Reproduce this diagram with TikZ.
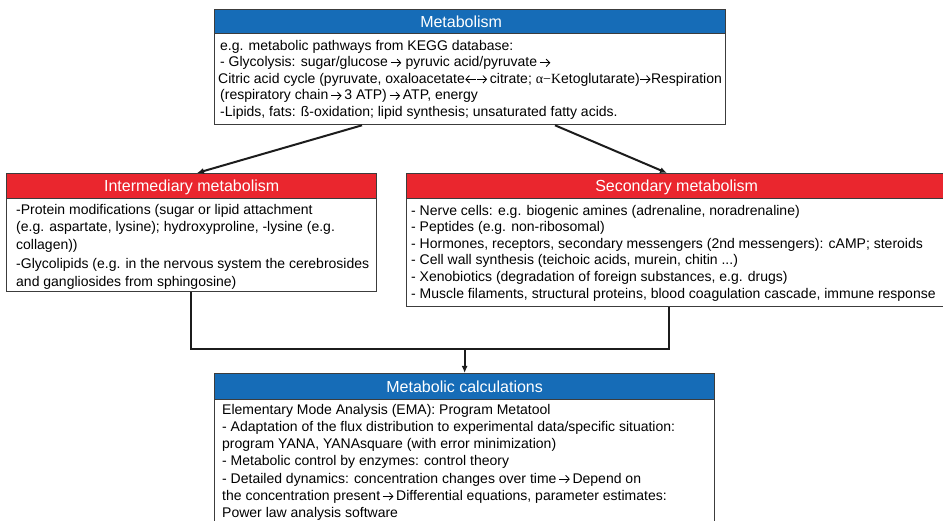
\documentclass[tikz,border=0pt]{standalone}
\usepackage{fontspec}
\setmainfont{Liberation Sans}
\newfontfamily\greekserif{Liberation Serif}
\usetikzlibrary{arrows.meta,calc}

\definecolor{hdrblue}{RGB}{22,108,183}
\definecolor{hdrred}{RGB}{234,38,46}
\definecolor{edge}{RGB}{60,60,60}
\definecolor{wire}{RGB}{28,28,28}

% fixed ascent for the first line of every list, so that its top
% sits 11pt above its baseline
\newcommand{\firstline}{\rule{0pt}{11pt}}
% open-headed text arrows, set at mid x-height
\newcommand{\rarr}{\tikz[baseline=-3.9pt]\draw[line width=0.85pt,
  -{Straight Barb[length=3.6pt,width=7.5pt]}] (0pt,0pt) -- (10.5pt,0pt);}
\newcommand{\larr}{\tikz[baseline=-3.9pt]\draw[line width=0.85pt,
  {Straight Barb[length=3.6pt,width=7.5pt]}-] (0pt,0pt) -- (10.5pt,0pt);}

\tikzset{
  frame/.style={draw=edge, line width=1.3pt, inner sep=0pt, anchor=north west},
  headbar/.style={frame, text=white, font=\fontsize{16}{18}\selectfont,
                  text height=11.4pt, text depth=0pt},
  bluebar/.style={headbar, fill=hdrblue},
  redbar/.style={headbar, fill=hdrred},
  panel/.style={frame, fill=white},
  listing/.style={anchor=north west, inner sep=0pt, align=left,
                  font=\fontsize{14}{#1}\selectfont},
  wireline/.style={draw=wire, line width=2pt},
  feed/.style={wireline, -{Latex[length=7pt,width=6pt]}},
}

\begin{document}
\begin{tikzpicture}[x=1pt,y=-1pt]
\useasboundingbox (0,0) rectangle (943,521);
\clip (0,0) rectangle (943,521);

% ---- Metabolism
\node[bluebar, minimum width=511pt, minimum height=24pt] (metaH) at (214,9) {\hspace*{-18pt}Metabolism};
\node[panel, minimum width=511pt, minimum height=91pt] (metaB) at (214,33) {};
\node[listing=16.5] (metaT) at (220,39) {\firstline e.g. metabolic pathways from KEGG database:\\
- Glycolysis: sugar/glucose\,\rarr\ pyruvic acid/pyruvate\,\rarr\\
\hspace*{-2pt}Citric acid cycle (pyruvate, oxaloacetate\larr\rarr\,citrate; {\greekserif α−K}etoglutarate)\rarr Respiration\\
(respiratory chain\,\rarr\,3 ATP)\,\rarr\,ATP, energy\\
-Lipids, fats: ß-oxidation; lipid synthesis; unsaturated fatty acids.};

% ---- Intermediary metabolism
\node[redbar, minimum width=370pt, minimum height=25pt] (interH) at (6,173) {Intermediary metabolism};
\node[panel, minimum width=370pt, minimum height=93pt] (interB) at (6,198) {};
\node[listing=17.5] (interT) at (16,203) {\firstline -Protein modifications (sugar or lipid attachment\\
(e.g. aspartate, lysine); hydroxyproline, -lysine (e.g.\\
collagen))\\[2pt]
-Glycolipids (e.g. in the nervous system the cerebrosides\\
and gangliosides from sphingosine)};

% ---- Secondary metabolism
\node[redbar, minimum width=540pt, minimum height=25pt] (secH) at (406,173) {Secondary metabolism};
\node[panel, minimum width=540pt, minimum height=108pt] (secB) at (406,198) {};
\node[listing=16.6] (secT) at (411,204) {\firstline - Nerve cells: e.g. biogenic amines (adrenaline, noradrenaline)\\
- Peptides (e.g. non-ribosomal)\\
- Hormones, receptors, secondary messengers (2nd messengers): cAMP; steroids\\
- Cell wall synthesis (teichoic acids, murein, chitin ...)\\
- Xenobiotics (degradation of foreign substances, e.g. drugs)\\
- Muscle filaments, structural proteins, blood coagulation cascade, immune response};

% ---- Metabolic calculations
\node[bluebar, minimum width=500pt, minimum height=26pt] (calcH) at (214,373) {Metabolic calculations};
\node[panel, minimum width=500pt, minimum height=140pt] (calcB) at (214,399) {};
\node[listing=17.2] (calcT) at (222,403) {\firstline Elementary Mode Analysis (EMA): Program Metatool\\
- Adaptation of the flux distribution to experimental data/specific situation:\\
program YANA, YANAsquare (with error minimization)\\
- Metabolic control by enzymes: control theory\\
- Detailed dynamics: concentration changes over time\,\rarr\,Depend on\\
the concentration present\,\rarr\,Differential equations, parameter estimates:\\
Power law analysis software};

% ---- connectors
\draw[feed] ([xshift=148pt]metaB.south west) -- ([xshift=191pt]interH.north west);
\draw[feed] ([xshift=341pt]metaB.south west) -- ([xshift=261pt]secH.north west);
\draw[wireline] ([xshift=185pt]interB.south west) -- ++(0,57) coordinate (busL)
      -| ([xshift=263pt]secB.south west);
\draw[feed] (busL -| calcH.north) -- (calcH.north);
\end{tikzpicture}
\end{document}
